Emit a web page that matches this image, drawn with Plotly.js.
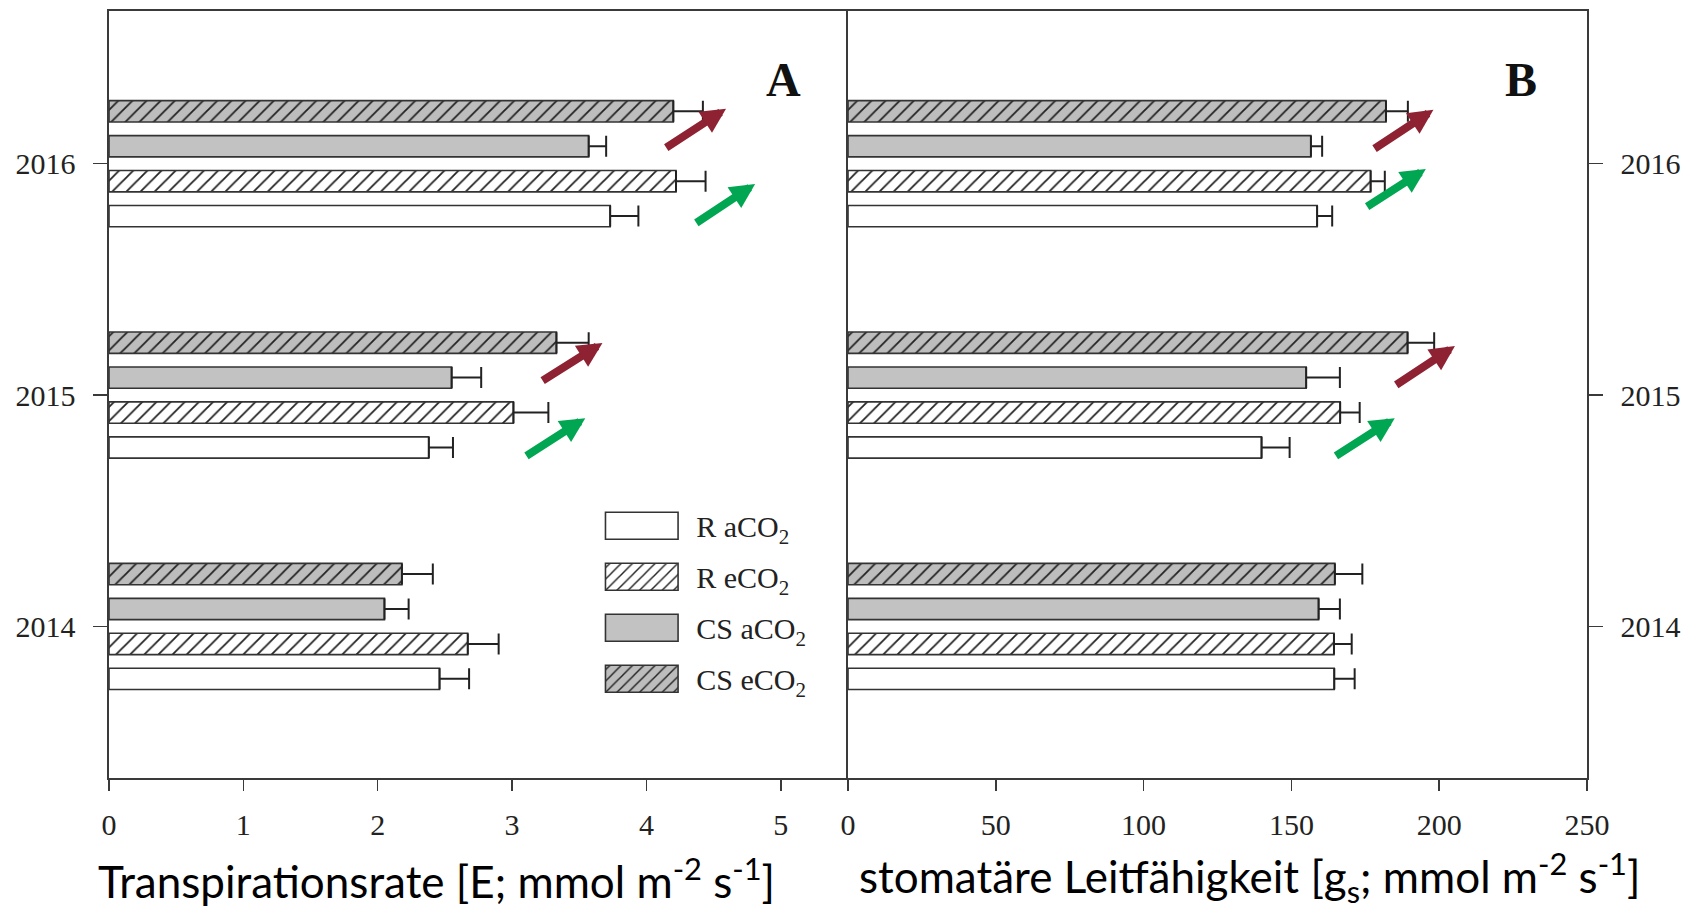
<!DOCTYPE html>
<html>
<head>
<meta charset="utf-8">
<script src="https://cdn.plot.ly/plotly-3.0.1.min.js"></script>
<style>html,body{margin:0;padding:0;background:#fff;}#plot{width:1686px;height:912px;}</style>
</head>
<body>
<div id="plot"></div>
<script>
// ---- data ----
const years = ['2014', '2015', '2016'];
const seriesNames = ['R aCO<sub>2</sub>', 'R eCO<sub>2</sub>', 'CS aCO<sub>2</sub>', 'CS eCO<sub>2</sub>'];

// Panel A: Transpirationsrate E (mmol m-2 s-1)
const E_R_a   = [2.46, 2.38, 3.73];
const E_R_e   = [2.67, 3.01, 4.22];
const E_CS_a  = [2.05, 2.55, 3.57];
const E_CS_e  = [2.18, 3.33, 4.20];
const E_R_a_err  = [0.22, 0.18, 0.21];
const E_R_e_err  = [0.23, 0.26, 0.22];
const E_CS_a_err = [0.18, 0.22, 0.13];
const E_CS_e_err = [0.23, 0.24, 0.22];

// Panel B: stomatäre Leitfähigkeit gs (mmol m-2 s-1)
const G_R_a   = [164.5, 139.9, 158.7];
const G_R_e   = [164.4, 166.5, 176.8];
const G_CS_a  = [159.2, 155.0, 156.6];
const G_CS_e  = [164.7, 189.3, 182.0];
const G_R_a_err  = [6.9, 9.5, 5.1];
const G_R_e_err  = [6.0, 6.6, 4.8];
const G_CS_a_err = [7.2, 11.4, 3.8];
const G_CS_e_err = [9.3, 9.0, 7.4];

const xTicksA = [0, 1, 2, 3, 4, 5];
const xTicksB = [0, 50, 100, 150, 200, 250];

const titleA = 'Transpirationsrate [E; mmol m<sup>-2</sup> s<sup>-1</sup>]';
const titleB = 'stomatäre Leitfähigkeit [g<sub>s</sub>; mmol m<sup>-2</sup> s<sup>-1</sup>]';

// ---- styles ----
const LINE = '#333333';
const styles = [
  {color: '#ffffff'},
  {color: '#ffffff', pattern: {shape: '/', bgcolor: '#ffffff', fgcolor: '#222222', size: 10, solidity: 0.18}},
  {color: '#c2c2c2'},
  {color: '#bdbdbd', pattern: {shape: '/', bgcolor: '#bdbdbd', fgcolor: '#222222', size: 10, solidity: 0.18}}
];

function barTrace(vals, errs, i, xa, ya, showleg) {
  const mk = Object.assign({line: {color: LINE, width: 1.6}}, styles[i]);
  return {
    type: 'bar', orientation: 'h',
    x: vals, y: years,
    xaxis: xa, yaxis: ya,
    name: seriesNames[i],
    legendgroup: 'g' + i,
    showlegend: showleg,
    marker: mk,
    error_x: {type: 'data', array: errs, arrayminus: errs.map(() => 0), symmetric: false,
              color: '#222222', thickness: 2, width: 10.5},
    hoverinfo: 'x+y+name'
  };
}

const data = [
  barTrace(E_R_a, E_R_a_err, 0, 'x', 'y', true),
  barTrace(E_R_e, E_R_e_err, 1, 'x', 'y', true),
  barTrace(E_CS_a, E_CS_a_err, 2, 'x', 'y', true),
  barTrace(E_CS_e, E_CS_e_err, 3, 'x', 'y', true),
  barTrace(G_R_a, G_R_a_err, 0, 'x2', 'y2', false),
  barTrace(G_R_e, G_R_e_err, 1, 'x2', 'y2', false),
  barTrace(G_CS_a, G_CS_a_err, 2, 'x2', 'y2', false),
  barTrace(G_CS_e, G_CS_e_err, 3, 'x2', 'y2', false)
];

// plot-area geometry (px) for placing decorations
const PL = 108.6, PR = 1587, PT = 10.75, PB = 778.5;
const px = X => (X - PL) / (PR - PL);
const py = Y => (PB - Y) / (PB - PT);

const RED = '#8e2232', GREEN = '#00a651';
const arrowDefs = [
  [725.8, 108.6, 664.5, 148.4, RED],
  [754.9, 183.9, 694.6, 223.7, GREEN],
  [602.2, 343.0, 540.9, 381.7, RED],
  [585.0, 418.3, 524.7, 457.0, GREEN],
  [1433.4, 109.7, 1373.0, 149.5, RED],
  [1425.8, 168.8, 1365.6, 207.5, GREEN],
  [1454.9, 346.2, 1394.7, 386.0, RED],
  [1394.7, 418.3, 1334.4, 457.0, GREEN]
];
const annotations = arrowDefs.map(a => ({
  xref: 'paper', yref: 'paper', x: px(a[0]), y: py(a[1]),
  axref: 'pixel', ayref: 'pixel', ax: a[2] - a[0], ay: a[3] - a[1],
  showarrow: true, arrowhead: 2, arrowwidth: 8, arrowsize: 0.62, arrowcolor: a[4], text: ''
}));
const labelFont = {family: 'Liberation Serif, Times New Roman, serif', size: 48, color: '#111'};
annotations.push({xref: 'paper', yref: 'paper', x: px(783), y: py(51), text: '<b>A</b>', showarrow: false, font: labelFont});
annotations.push({xref: 'paper', yref: 'paper', x: px(1539), y: py(51), text: '<b>B</b>', showarrow: false, font: labelFont});

const titleFont = {family: 'Lato, sans-serif', size: 44, color: '#000'};
annotations.push({xref: 'paper', yref: 'paper', x: px(436.6), y: py(879), xanchor: 'center', yanchor: 'middle',
  text: titleA, showarrow: false, font: titleFont});
annotations.push({xref: 'paper', yref: 'paper', x: px(1249.5), y: py(878), xanchor: 'center', yanchor: 'middle',
  text: titleB, showarrow: false, font: titleFont});

const tickFont = {family: 'Liberation Serif, Times New Roman, serif', size: 30, color: '#222'};
const axLine = {showline: true, linecolor: '#3a3a3a', linewidth: 1.6, showgrid: false, zeroline: false};

const layout = {
  width: 1686, height: 912,
  margin: {l: PL, r: 1686 - PR, t: PT, b: 912 - PB, pad: 0},
  paper_bgcolor: '#fff', plot_bgcolor: '#fff',
  barmode: 'group', bargap: 0.396, bargroupgap: 0.39,
  showlegend: true,
  legend: {x: px(587), y: py(500), xanchor: 'left', yanchor: 'top', bgcolor: 'rgba(0,0,0,0)',
           borderwidth: 0, font: tickFont, itemwidth: 99, traceorder: 'grouped', tracegroupgap: 9},
  xaxis: Object.assign({domain: [0, 0.5], range: [0, 5.5], tickvals: xTicksA, ticks: 'outside', ticklen: 11,
           tickcolor: '#3a3a3a', tickwidth: 1.5, tickfont: tickFont, ticklabelstandoff: 8, anchor: 'y', automargin: false,
           mirror: true}, axLine),
  xaxis2: Object.assign({domain: [0.5, 1], range: [0, 250], tickvals: xTicksB, ticks: 'outside', ticklen: 11,
           tickcolor: '#3a3a3a', tickwidth: 1.5, tickfont: tickFont, ticklabelstandoff: 8, anchor: 'y2', automargin: false,
           mirror: true}, axLine),
  yaxis: Object.assign({type: 'category', categoryorder: 'array', categoryarray: years, range: [-0.655, 2.66],
           anchor: 'x', side: 'left', ticks: 'outside', ticklen: 14, tickcolor: '#3a3a3a', tickwidth: 1.5,
           tickfont: tickFont, ticklabelstandoff: 12, automargin: false, mirror: false}, axLine),
  yaxis2: Object.assign({type: 'category', categoryorder: 'array', categoryarray: years, range: [-0.655, 2.66],
           matches: 'y', anchor: 'x2', side: 'right', ticks: 'outside', ticklen: 14, tickcolor: '#3a3a3a', tickwidth: 1.5,
           tickfont: tickFont, ticklabelstandoff: 12, automargin: false, mirror: true}, axLine),
  annotations: annotations
};

Plotly.newPlot('plot', data, layout, {staticPlot: true, responsive: false}).then(gd => {
  // enlarge legend swatches to match the reference's wide boxes
  gd.querySelectorAll('.legend path.legendbar, .legend path.legendundefined').forEach(p => {
    p.setAttribute('d', 'M-36.3,13.5H36.3V-13.5H-36.3Z');
  });
});
</script>
</body>
</html>
